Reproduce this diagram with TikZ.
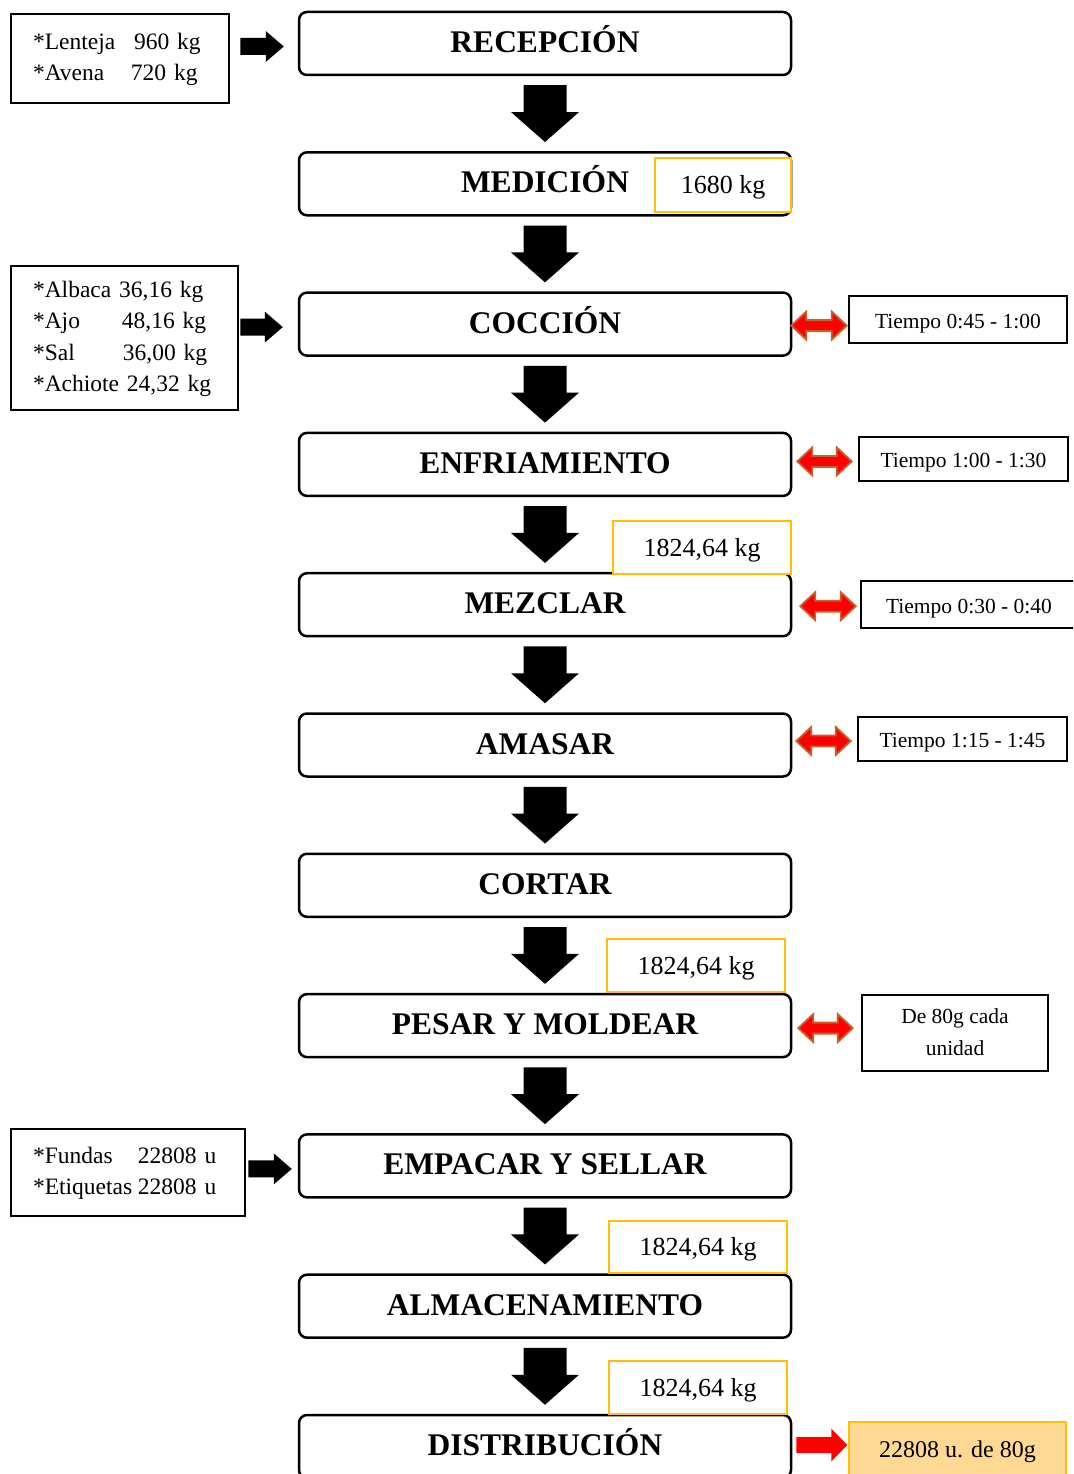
\documentclass[tikz,border=0pt]{standalone}
\usepackage{fontspec}
\setmainfont{Liberation Serif}
\usetikzlibrary{calc}

\definecolor{gold}{HTML}{FFC000}
\definecolor{rust}{HTML}{C5622A}
\definecolor{peach}{HTML}{FED993}
\definecolor{arrowred}{HTML}{FF0000}

% thick black block arrow pointing down, from one step box to the next
\newcommand\blockdown[2]{%
  \fill let \p1=($(#1.south)+(0,9)$), \p2=($(#2.north)+(0,-9)$) in
    (\x1-21.5pt,\y1) -- (\x1+21.5pt,\y1) -- (\x1+21.5pt,\y2+30pt)
    -- (\x1+34pt,\y2+30pt) -- (\x1,\y2) -- (\x1-34pt,\y2+30pt)
    -- (\x1-21.5pt,\y2+30pt) -- cycle;}

% black block arrow pointing right: #1 from, #2 to, #3 start gap, #4 end gap
\newcommand\blockright[4]{%
  \fill let \p1=($(#1.east)+(#3,0)$), \p2=($(#2.west)+(-#4,3)$) in
    (\x1,\y2+8.5pt) -- (\x2-18pt,\y2+8.5pt) -- (\x2-18pt,\y2+15.5pt)
    -- (\x2,\y2) -- (\x2-18pt,\y2-15.5pt) -- (\x2-18pt,\y2-8.5pt)
    -- (\x1,\y2-8.5pt) -- cycle;}

% red two-headed arrow: #1 from, #2 to, #3 start gap, #4 end gap, #5 vertical shift
\newcommand\twohead[5]{%
  \filldraw[fill=arrowred, draw=rust, line width=1.8pt, line join=miter]
    let \p1=($(#1.east)+(#3,#5)$), \p2=($(#2.west)+(-#4,#5)$) in
    (\x1,\y1) -- (\x1+15pt,\y1+14pt) -- (\x1+15pt,\y1+5.5pt)
    -- (\x2-15pt,\y1+5.5pt) -- (\x2-15pt,\y1+14pt) -- (\x2,\y1)
    -- (\x2-15pt,\y1-14pt) -- (\x2-15pt,\y1-5.5pt)
    -- (\x1+15pt,\y1-5.5pt) -- (\x1+15pt,\y1-14pt) -- cycle;}

\tikzset{
  mainbox/.style={draw, line width=2.5pt, rounded corners=8pt,
    minimum width=492pt, minimum height=63pt, inner sep=0pt,
    text height=18pt, text depth=0pt,
    font=\fontsize{31.5}{36}\selectfont\bfseries},
  valbox/.style={draw=gold, line width=2.5pt, fill=white, inner sep=0pt,
    text height=17pt, text depth=0pt,
    font=\fontsize{26}{30}\selectfont},
  timebox/.style={draw, line width=2.5pt, fill=white, inner sep=0pt,
    align=center, font=\fontsize{21.5}{32}\selectfont},
  onetime/.style={timebox, text height=17pt, text depth=0pt},
  inbox/.style={draw, line width=2.5pt, inner ysep=0pt, inner xsep=22pt,
    align=left, font=\fontsize{23.5}{31.5}\selectfont},
}

\begin{document}
\begin{tikzpicture}[x=1pt, y=-1pt]
\useasboundingbox (0,0) rectangle (1073,1474);
\clip (0,0) rectangle (1073,1474);

% process steps
\node[mainbox] (rec) at (545,43.5)   {RECEPCIÓN};
\node[mainbox] (med) at (545,183.8)  {MEDICIÓN};
\node[mainbox] (coc) at (545,324.1)  {COCCIÓN};
\node[mainbox] (enf) at (545,464.4)  {ENFRIAMIENTO};
\node[mainbox] (mez) at (545,604.7)  {MEZCLAR};
\node[mainbox] (ama) at (545,745.0)  {AMASAR};
\node[mainbox] (cor) at (545,885.3)  {CORTAR};
\node[mainbox] (pes) at (545,1025.6) {PESAR Y MOLDEAR};
\node[mainbox] (emp) at (545,1165.9) {EMPACAR Y SELLAR};
\node[mainbox] (alm) at (545,1306.2) {ALMACENAMIENTO};
\node[mainbox] (dis) at (545,1446.5) {DISTRIBUCIÓN};

% flow between steps
\blockdown{rec}{med}
\blockdown{med}{coc}
\blockdown{coc}{enf}
\blockdown{enf}{mez}
\blockdown{mez}{ama}
\blockdown{ama}{cor}
\blockdown{cor}{pes}
\blockdown{pes}{emp}
\blockdown{emp}{alm}
\blockdown{alm}{dis}

% quantities
\node[valbox, minimum width=136pt, minimum height=54pt] (q1) at (723,185)    {1680 kg};
\node[valbox, minimum width=178pt, minimum height=53pt] (q2) at (702,547.5)  {1824,64 kg};
\node[valbox, minimum width=178pt, minimum height=53pt] (q3) at (696,965.5)  {1824,64 kg};
\node[valbox, minimum width=178pt, minimum height=52pt] (q4) at (698,1247)   {1824,64 kg};
\node[valbox, minimum width=178pt, minimum height=53pt] (q5) at (698,1387.5) {1824,64 kg};

% raw materials and supplies
\node[inbox, text width=174pt, minimum height=89pt] (in1) at (120,58.5)
  {\begin{tabular}{@{}l@{}}
   \makebox[101pt][l]{*Lenteja}960 kg\\
   \makebox[98pt][l]{*Avena}720 kg
   \end{tabular}};
\node[inbox, text width=183pt, minimum height=144pt] (in2) at (124.5,338)
  {\raisebox{-2pt}{\begin{tabular}{@{}l@{}}
   *Albaca 36,16 kg\\
   \makebox[89pt][l]{*Ajo}48,16 kg\\
   \makebox[90pt][l]{*Sal}36,00 kg\\
   {*}Achiote 24,32 kg
   \end{tabular}}};
\node[inbox, text width=190pt, minimum height=87pt] (in3) at (128,1172.5)
  {\begin{tabular}{@{}l@{}}
   \makebox[105pt][l]{*Fundas}22808 u\\
   \makebox[105pt][l]{*Etiquetas}22808 u
   \end{tabular}};

\blockright{in1}{rec}{10}{14}
\blockright{in2}{coc}{1}{15}
\blockright{in3}{emp}{2}{6}

% times and unit weight
\node[onetime, minimum width=218pt, minimum height=47pt] (t1) at (958,319.5)   {Tiempo 0:45 - 1:00};
\node[onetime, minimum width=209pt, minimum height=44pt] (t2) at (963.5,459)   {Tiempo 1:00 - 1:30};
\node[onetime, minimum width=216pt, minimum height=47pt] (t3) at (969,604.5)   {Tiempo 0:30 - 0:40};
\node[onetime, minimum width=209pt, minimum height=44pt] (t4) at (962.5,739)   {Tiempo 1:15 - 1:45};
\node[timebox, minimum width=186pt, minimum height=76pt] (t5) at (955,1033)
  {\raisebox{-3pt}{\begin{tabular}{@{}c@{}}De 80g cada\\unidad\end{tabular}}};

\twohead{coc}{t1}{-1}{1}{1.5}
\twohead{enf}{t2}{5}{6}{-3}
\twohead{mez}{t3}{8}{4}{1.5}
\twohead{ama}{t4}{4}{6}{-4}
\twohead{pes}{t5}{6}{8}{2.5}

% final output
\node[draw=gold, line width=1.5pt, fill=peach, minimum width=217pt, minimum height=60pt,
      inner sep=0pt, font=\fontsize{24}{28}\selectfont] (out) at (957.5,1452)
  {\raisebox{5pt}{22808 u. de 80g}};
\fill[arrowred] let \p1=($(dis.east)+(4,-1.5)$), \p2=($(out.west)+(-1,0)$) in
  (\x1,\y1+8pt) -- (\x2-16pt,\y1+8pt) -- (\x2-16pt,\y1+16.5pt) -- (\x2,\y1)
  -- (\x2-16pt,\y1-16.5pt) -- (\x2-16pt,\y1-8pt) -- (\x1,\y1-8pt) -- cycle;
\end{tikzpicture}
\end{document}
